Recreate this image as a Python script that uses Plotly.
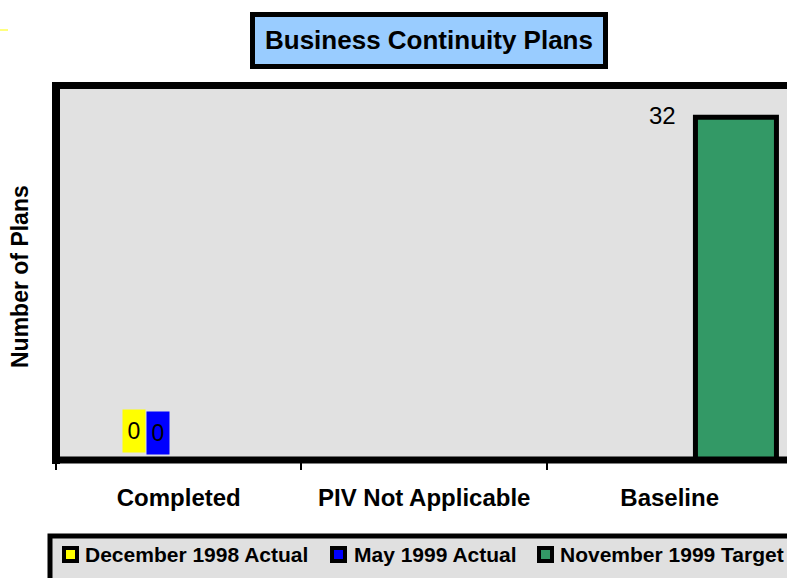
import plotly.graph_objects as go

# data
categories = ["Completed", "PIV Not Applicable", "Baseline"]
series_names = ["December 1998 Actual", "May 1999 Actual", "November 1999 Target"]
dec_1998_actual = [0, None, None]
may_1999_actual = [0, None, None]
nov_1999_target = [None, None, 32]
series_colors = ["#ffff00", "#0000ff", "#339966"]

FONT = "Liberation Sans, Arial, sans-serif"

# plot area in pixels (for placing decorations)
L, T, W, H = 56, 85, 731, 375


def px(x):
    return (x - L) / W


def py(y):
    return (T + H - y) / H


fig = go.Figure()

# only the target bar has a height; the two zero series get labels only
fig.add_trace(go.Bar(
    x=categories, y=nov_1999_target, name=series_names[2],
    marker=dict(color=series_colors[2], line=dict(color="black", width=5)),
    offset=0.105, width=0.33, showlegend=False, hoverinfo="skip",
))

annotations = []

# value labels
label_specs = [
    (dec_1998_actual, series_colors[0], -0.182, 7),
    (may_1999_actual, series_colors[1], -0.085, 5),
]
for values, color, dx, shift in label_specs:
    for i, v in enumerate(values):
        if v is None:
            continue
        annotations.append(dict(
            x=i + dx, y=v, xref="x", yref="y", text=str(v), showarrow=False,
            xanchor="center", yanchor="bottom", yshift=shift,
            width=22, height=42, bgcolor=color, borderpad=0,
            font=dict(family=FONT, size=23, color="black"),
        ))
for i, v in enumerate(nov_1999_target):
    if v is None:
        continue
    annotations.append(dict(
        x=i - 0.03, y=v, xref="x", yref="y", text=str(v), showarrow=False,
        xanchor="center", yanchor="middle", yshift=2,
        font=dict(family=FONT, size=24, color="black"),
    ))

# title text
annotations.append(dict(
    x=px(429), y=py(40), xref="paper", yref="paper", text="<b>Business Continuity Plans</b>",
    showarrow=False, xanchor="center", yanchor="middle",
    font=dict(family=FONT, size=26, color="black"),
))

# y axis title
annotations.append(dict(
    x=px(20), y=py(277), xref="paper", yref="paper", text="<b>Number of Plans</b>",
    showarrow=False, textangle=-90, xanchor="center", yanchor="middle",
    font=dict(family=FONT, size=23, color="black"),
))

shapes = [
    # title box
    dict(type="rect", xref="paper", yref="paper", x0=px(252.5), x1=px(605.5),
         y0=py(66.5), y1=py(14.5), fillcolor="#99ccff", line=dict(color="black", width=5),
         layer="below"),
    # plot frame: top, left, bottom
    dict(type="line", xref="paper", yref="paper", x0=px(52), x1=1.01, y0=py(85.5), y1=py(85.5),
         line=dict(color="black", width=7)),
    dict(type="line", xref="paper", yref="paper", x0=px(56), x1=px(56), y0=py(82), y1=py(464),
         line=dict(color="black", width=8)),
    dict(type="line", xref="paper", yref="paper", x0=px(52), x1=1.01, y0=py(460), y1=py(460),
         line=dict(color="black", width=7)),
    # legend box
    dict(type="rect", xref="paper", yref="paper", x0=px(50), x1=px(795),
         y0=py(590), y1=py(536), fillcolor="#e0e0e0", line=dict(color="black", width=5),
         layer="below"),
    # stray yellow mark at top left
    dict(type="line", xref="paper", yref="paper", x0=px(0), x1=px(8), y0=py(30), y1=py(30),
         line=dict(color="#ffff00", width=1)),
]

# legend entries
legend_x = [(62, 83), (330, 352), (537, 558)]
for (sx, tx), name, color in zip(legend_x, series_names, series_colors):
    shapes.append(dict(
        type="rect", xref="paper", yref="paper", x0=px(sx + 2), x1=px(sx + 15),
        y0=py(561), y1=py(548), fillcolor=color, line=dict(color="black", width=4),
    ))
    annotations.append(dict(
        x=px(tx), y=py(554), xref="paper", yref="paper", text=f"<b>{name}</b>",
        showarrow=False, xanchor="left", yanchor="middle",
        font=dict(family=FONT, size=21, color="black"),
    ))

fig.update_layout(
    width=787, height=578,
    margin=dict(l=L, r=0, t=T, b=578 - T - H),
    paper_bgcolor="white", plot_bgcolor="#e1e1e1",
    barmode="overlay",
    showlegend=False,
    xaxis=dict(
        type="category", range=[-0.5, 2.478], tickson="boundaries",
        ticks="outside", ticklen=9, tickwidth=2, tickcolor="black",
        showgrid=False, zeroline=False, showline=False,
        tickfont=dict(family=FONT, size=24, color="black"),
        ticklabelstandoff=21,
    ),
    yaxis=dict(
        range=[0, 35], showticklabels=False, ticks="", showgrid=False,
        zeroline=False, showline=False,
    ),
    shapes=shapes,
    annotations=annotations,
)

# make tick labels bold
fig.update_xaxes(tickvals=categories, ticktext=[f"<b>{c}</b>" for c in categories])

# page has a default 8px body margin; remove it so the figure sits at the corner
fig.write_html(
    "out.html",
    config={"displayModeBar": False},
    post_script="document.body.style.margin='0';document.body.style.overflow='hidden';",
)
